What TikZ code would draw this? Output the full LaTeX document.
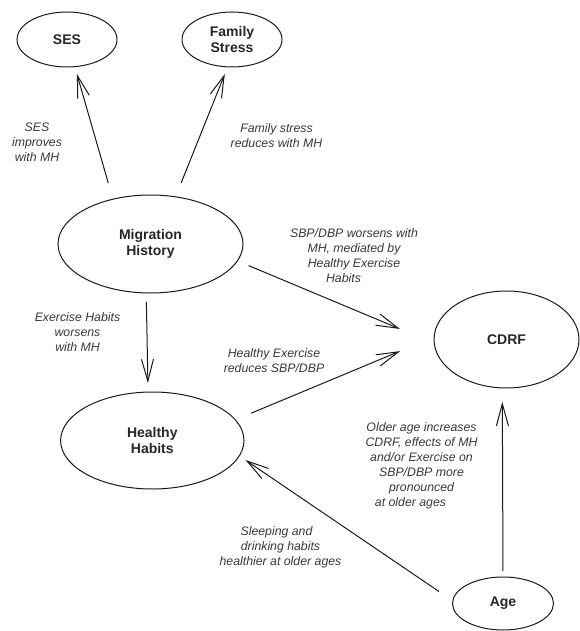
\documentclass[tikz,border=0pt]{standalone}
\usepackage{fontspec}
\setmainfont{Liberation Sans}
\usetikzlibrary{arrows.meta,shapes.geometric}
\begin{document}
\begin{tikzpicture}[x=1pt,y=-1pt,
  var/.style={ellipse, draw=black!90, line width=1pt, inner sep=0pt, outer sep=0pt, align=center,
    font=\bfseries\fontsize{14}{15.5}\selectfont, text=black!85},
  lbl/.style={align=center, font=\itshape\fontsize{12.3}{15}\selectfont, text=black!78, inner sep=0pt},
  link/.style={line width=1pt, draw=black!90, -{Straight Barb[length=22pt,width=12pt]}}]
\useasboundingbox (0,0) rectangle (579,631);
% variables
\node[var, minimum width=100pt, minimum height=55pt] (ses) at (67,39.5) {SES};
\node[var, minimum width=100pt, minimum height=55pt] (fs) at (232,39.5) {Family\\Stress};
\node[var, minimum width=185pt, minimum height=98pt] (mh) at (150.5,244) {Migration\\History};
\node[var, minimum width=145pt, minimum height=97pt] (cdrf) at (506.5,339.5) {CDRF};
\node[var, minimum width=183.4pt, minimum height=97pt] (hh) at (152.3,440.5) {Healthy\\Habits};
\node[var, minimum width=101pt, minimum height=53pt] (age) at (503,603.5) {Age};
% connectors
\draw[link, shorten <=17pt, shorten >=7.6pt] (mh.130.3) -- (ses.286.3);
\draw[link, shorten <=14.9pt, shorten >=7.65pt] (mh.62.2) -- (fs.261.5);
\draw[link, shorten <=9pt, shorten >=9pt] (mh.265.9) -- (hh.95.9);
\draw[link, shorten <=12.2pt, shorten >=37.2pt] (mh.349.5) -- (cdrf.183.2);
\draw[link, shorten <=17.3pt, shorten >=36.8pt] (hh.14.2) -- (cdrf.178.9);
\draw[link, shorten <=6pt, shorten >=14pt] (age.90) -- (cdrf.265.9);
\draw[link, shorten <=16.6pt, shorten >=7.4pt] (age.177.6) -- (hh.350.7);
% labels
\node[lbl] (t1) at (37,142) {SES\\improves\\with MH};
\node[lbl] (t2) at (276.5,136) {Family stress\\reduces with MH};
\node[lbl] (t3) at (354,255.5) {SBP/DBP worsens with\\MH, mediated by\\Healthy Exercise\hspace*{9pt}\\Habits\hspace*{21pt}};
\node[lbl] (t4) at (77.5,332) {Exercise Habits\\worsens\\with MH};
\node[lbl] (t5) at (274,361) {Healthy Exercise\\reduces SBP/DBP};
\node[lbl] (t6) at (421.5,466) {Older age increases\\CDRF, effects of MH\\and/or Exercise on\hspace*{2pt}\\SBP/DBP more\hspace*{15pt}\\pronounced\hspace*{20pt}\\at older ages\hspace*{22pt}};
\node[lbl] (t7) at (280.5,547) {Sleeping and\hspace*{8pt}\\drinking habits\hspace*{8pt}\\healthier at older ages};
\end{tikzpicture}
\end{document}
